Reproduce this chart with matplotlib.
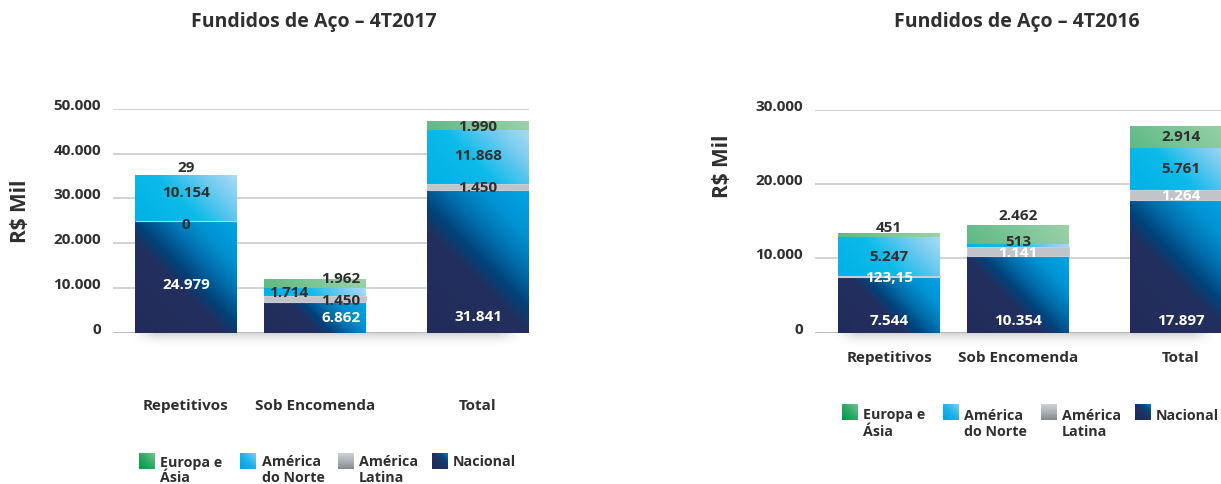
import numpy as np
import matplotlib
matplotlib.use("Agg")
import matplotlib.pyplot as plt
from matplotlib.colors import LinearSegmentedColormap
from matplotlib.transforms import offset_copy

plt.rcParams["font.family"] = ["Open Sans", "DejaVu Sans"]
plt.rcParams["font.weight"] = "bold"

# ---------------------------------------------------------------- data
categories = ["Repetitivos", "Sob Encomenda", "Total"]
series_names = ["Europa e\nÁsia", "América\ndo Norte", "América\nLatina", "Nacional"]

# 4T2017, R$ mil
nacional_2017 = [24979, 6862, 31841]
latina_2017 = [0, 1450, 1450]
norte_2017 = [10154, 1714, 11868]
europa_2017 = [29, 1962, 1990]

# 4T2016, R$ mil
nacional_2016 = [7544, 10354, 17897]
latina_2016 = [123.15, 1141, 1264]
norte_2016 = [5247, 513, 5761]
europa_2016 = [451, 2462, 2914]

yticks_2017 = [0, 10000, 20000, 30000, 40000, 50000]
yticks_2016 = [0, 10000, 20000, 30000]

title_2017 = "Fundidos de Aço – 4T2017"
title_2016 = "Fundidos de Aço – 4T2016"
ylabel = r"R\$ Mil"

# ---------------------------------------------------------------- style
W, H = 1221, 484
TXT = "#2f2f2f"
FS = 11
FS_LEG = 10.3

cmap_nacional = LinearSegmentedColormap.from_list(
    "nac", [(0, "#222c5a"), (0.42, "#232f5e"), (0.52, "#00427a"),
            (0.66, "#0070ae"), (0.8, "#0092d2"), (1, "#00a5e4")])
cmap_norte = LinearSegmentedColormap.from_list(
    "norte", [(0, "#00b1e6"), (0.45, "#0dbbe9"), (0.75, "#6ecaf0"), (1, "#acdbf6")])
cmap_latina = LinearSegmentedColormap.from_list("lat", ["#c1c5ca", "#c1c5ca"])
cmap_europa = LinearSegmentedColormap.from_list(
    "eur", [(0, "#5db985"), (1, "#9cd2a8")])

# legend swatches
sw_europa = LinearSegmentedColormap.from_list("sw_e", ["#009a4d", "#2ea865", "#74c491"])
sw_norte = LinearSegmentedColormap.from_list("sw_n", ["#00a2e2", "#1fb2ea", "#7dd0f2"])
sw_latina = LinearSegmentedColormap.from_list("sw_l", ["#85888c", "#aeb1b5", "#cdd1d5"])
sw_nacional = LinearSegmentedColormap.from_list(
    "sw_c", [(0, "#1f2a5a"), (0.5, "#203263"), (0.78, "#004f88"), (1, "#0082c2")])


def fmt(v):
    if float(v).is_integer():
        return f"{int(v):,}".replace(",", ".")
    return f"{v:,.2f}".replace(",", "X").replace(".", ",").replace("X", ".")


def fill_gradient(ax, patch, cmap, z):
    x0, y0 = patch.get_x(), patch.get_y()
    w, h = patch.get_width(), patch.get_height()
    if h <= 0:
        return
    (px0, py0), (px1, py1) = ax.transData.transform([(x0, y0), (x0 + w, y0 + h)])
    wp, hp = abs(px1 - px0), abs(py1 - py0)
    nx, ny = max(int(wp * 2), 2), max(int(hp * 2), 2)
    u = np.linspace(0, 1, nx)[None, :]
    v = np.linspace(0, 1, ny)[:, None]
    t = (u * wp + v * hp) / (wp + hp)
    im = ax.imshow(cmap(t), extent=(x0, x0 + w, y0, y0 + h), origin="lower",
                   aspect="auto", interpolation="bilinear", zorder=z)
    im.set_clip_path(patch)


def base_shadow(ax, depth_px=15):
    x0, x1 = ax.get_xlim()
    y0, y1 = ax.get_ylim()
    h_ax = ax.get_window_extent().height
    dy = depth_px * (y1 - y0) / h_ax
    nx, ny = 400, 40
    u = np.linspace(0, 1, nx)[None, :]
    v = np.linspace(0, 1, ny)[:, None]
    env = np.clip(np.minimum(u, 1 - u) / 0.06, 0, 1)
    alpha = 0.30 * (1 - v) ** 2 * env
    img = np.zeros((ny, nx, 4))
    img[..., :3] = 0.45
    img[..., 3] = alpha
    im = ax.imshow(img, extent=(x0 + 0.15, x1 - 0.05, -dy, 0), origin="upper",
                   aspect="auto", interpolation="bilinear", zorder=0.8)
    im.set_clip_on(False)


def draw_chart(ax, stacks, yticks, xlim, label_y, label_dx, label_white,
               cat_drop_px):
    ymax = yticks[-1]
    ax.set_xlim(*xlim)
    ax.set_ylim(0, ymax)
    ax.set_autoscale_on(False)
    for s in ax.spines.values():
        s.set_visible(False)
    ax.set_xticks([])
    ax.set_yticks(yticks)
    ax.tick_params(axis="y", length=0, labelleft=False)
    ax.grid(axis="y", color="#cfcfcf", lw=1.3, zorder=0.5)
    ax.set_axisbelow(True)
    ax.axhline(0, color="#b8b8b8", lw=2.0, zorder=1)
    base_shadow(ax)

    ylab_tr = offset_copy(ax.get_yaxis_transform(), fig=ax.figure, x=-12, y=3, units="dots")
    for t in yticks:
        ax.text(0, t, fmt(t), transform=ylab_tr, ha="right", va="center",
                fontsize=FS, color=TXT)

    xpos = np.array(bar_pos)
    bottom = np.zeros(len(xpos))
    cmaps = [cmap_nacional, cmap_latina, cmap_norte, cmap_europa]
    for si, (vals, cm) in enumerate(zip(stacks, cmaps)):
        vals = np.asarray(vals, dtype=float)
        ec = "#c9cdd1" if si == 1 else "none"
        bars = ax.bar(xpos, vals, width=bar_w, bottom=bottom, facecolor="none",
                      edgecolor=ec, lw=0.8 if si == 1 else 0, zorder=2.5)
        for p in bars.patches:
            fill_gradient(ax, p, cm, 2)
        for i, v in enumerate(vals):
            ax.text(xpos[i] + label_dx[si][i], label_y[si][i], fmt(v),
                    ha="center", va="center", fontsize=FS,
                    color="white" if label_white[si][i] else TXT, zorder=4,
                    clip_on=False)
        bottom = bottom + vals

    cat_tr = offset_copy(ax.get_xaxis_transform(), fig=ax.figure, x=0,
                         y=-cat_drop_px, units="dots")
    for x, c in zip(xpos, categories):
        ax.text(x, 0, c, transform=cat_tr, ha="center", va="center",
                fontsize=FS, color=TXT)
    ax.set_xlim(*xlim)
    ax.set_ylim(0, ymax)


# ---------------------------------------------------------------- layout
bar_pos = [0, 1, 2.264]
bar_w = 0.79

fig = plt.figure(figsize=(W / 100, H / 100), dpi=100)


def px_axes(x0, x1, ytop, ybot):
    return fig.add_axes([x0 / W, (H - ybot) / H, (x1 - x0) / W, (ybot - ytop) / H])


ax1 = px_axes(113, 528.5, 108.7, 333)
ax2 = px_axes(815, W, 110, 332.7)

# label anchors (data units), order: nacional, latina, norte, europa
lab_y_2017 = [[10700, 3410, 3570],
              [24160, 7200, 32250],
              [31120, 8980, 39450],
              [36890, 11970, 45990]]
lab_dx_2017 = [[0, 0.2, 0], [0, 0.2, 0], [0, -0.207, 0], [0, 0.2, 0]]
lab_w_2017 = [[1, 1, 1], [0, 0, 0], [0, 0, 0], [0, 0, 0]]

lab_y_2016 = [[1580, 1580, 1620],
              [7330, 10700, 18410],
              [10240, 12250, 22010],
              [14140, 15720, 26320]]
lab_dx_2016 = [[0, 0, 0]] * 4
lab_w_2016 = [[1, 1, 1], [1, 1, 1], [0, 0, 0], [0, 0, 0]]

draw_chart(ax1, [nacional_2017, latina_2017, norte_2017, europa_2017],
           yticks_2017, ((113 - 186) / 129, (528.5 - 186) / 129),
           lab_y_2017, lab_dx_2017, lab_w_2017, cat_drop_px=73)
draw_chart(ax2, [nacional_2016, latina_2016, norte_2016, europa_2016],
           yticks_2016, ((815 - 889) / 129, (W - 889) / 129),
           lab_y_2016, lab_dx_2016, lab_w_2016, cat_drop_px=25)

# ---------------------------------------------------------------- titles
fig.text(314 / W, 1 - 22 / H, title_2017, ha="center", va="center",
         fontsize=14, color=TXT)
fig.text(1017 / W, 1 - 22 / H, title_2016, ha="center", va="center",
         fontsize=14, color=TXT)
fig.text(21 / W, 1 - 211 / H, ylabel, rotation=90, ha="center", va="center",
         fontsize=15, color=TXT)
fig.text(723 / W, 1 - 166 / H, ylabel, rotation=90, ha="center", va="center",
         fontsize=15, color=TXT)

# ---------------------------------------------------------------- legends
ov = fig.add_axes([0, 0, 1, 1], zorder=5)
ov.set_xlim(0, W)
ov.set_ylim(H, 0)
ov.axis("off")
ov.patch.set_alpha(0)

sw_cmaps = [sw_europa, sw_norte, sw_latina, sw_nacional]


def swatch(x0, y0, cm, vertical=False, size=16):
    n = 32
    u = np.linspace(0, 1, n)[None, :]
    v = np.linspace(1, 0, n)[:, None]  # row 0 = top
    t = v * np.ones_like(u) if vertical else (u + v) / 2
    ov.imshow(cm(t), extent=(x0, x0 + size, y0 + size, y0), origin="upper",
              aspect="auto", interpolation="bilinear")


def legend(sw_x, txt_x, sw_top, base1, step):
    for i, name in enumerate(series_names):
        swatch(sw_x[i], sw_top, sw_cmaps[i], vertical=(i == 2))
        for k, line in enumerate(name.split("\n")):
            ov.text(txt_x[i], base1 + k * step, line, ha="left", va="baseline",
                    fontsize=FS_LEG, color=TXT)


legend([139, 240, 338, 432], [160, 262, 359, 453], 452.7, 466.5, 15.5)
legend([842, 943, 1041, 1135], [863, 964, 1062, 1156], 404.3, 419.5, 16)
ov.set_xlim(0, W)
ov.set_ylim(H, 0)

fig.savefig("out.png", dpi=100)
